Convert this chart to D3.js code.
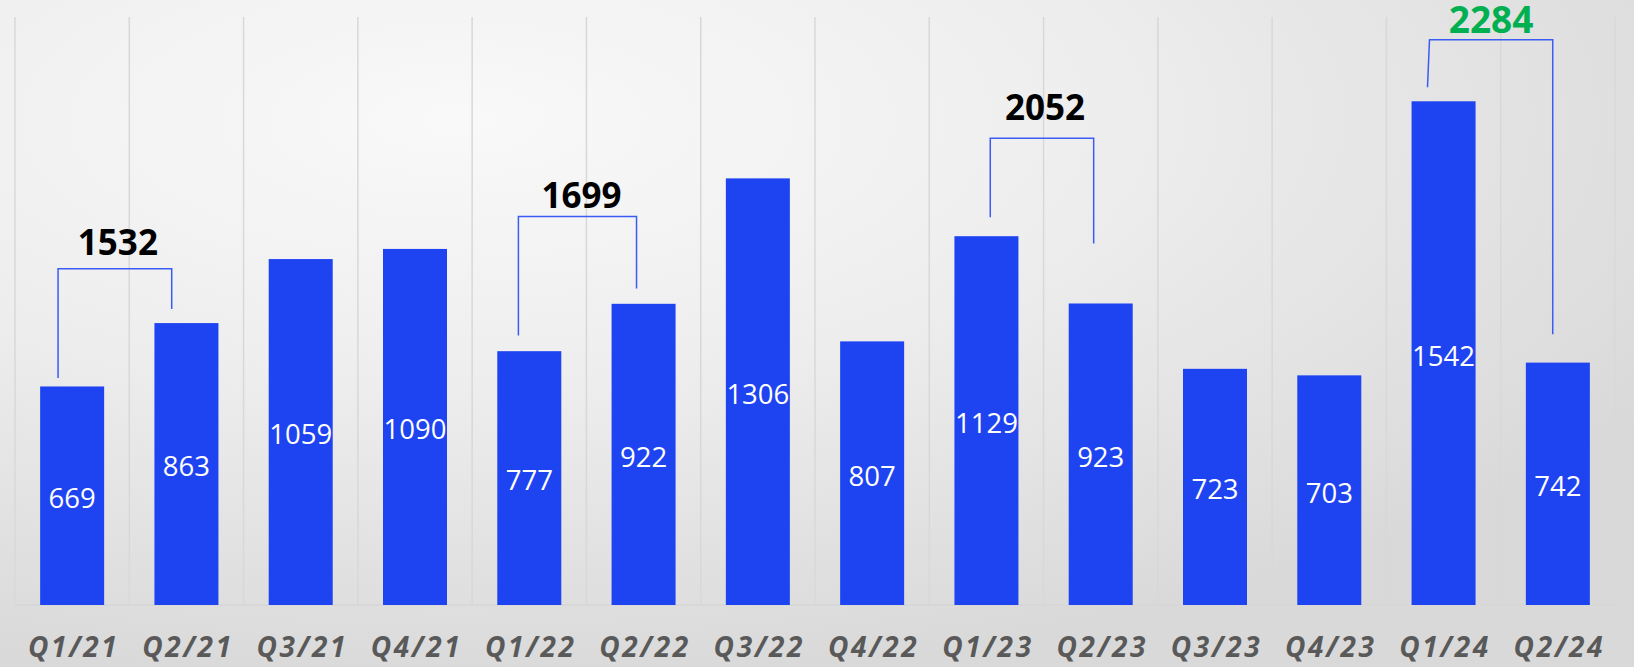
<!DOCTYPE html>
<html>
<head>
<meta charset="utf-8">
<script src="https://cdn.jsdelivr.net/npm/d3@7"></script>
<style>
  html, body { margin: 0; padding: 0; overflow: hidden; }
  svg { display: block; font-family: "Open Sans", sans-serif; }
</style>
</head>
<body>
<svg id="chart" width="1634" height="667"></svg>
<script>
"use strict";

// Quarterly values
const quarters = ["Q1/21", "Q2/21", "Q3/21", "Q4/21", "Q1/22", "Q2/22", "Q3/22",
  "Q4/22", "Q1/23", "Q2/23", "Q3/23", "Q4/23", "Q1/24", "Q2/24"];
const values = [669, 863, 1059, 1090, 777, 922, 1306, 807, 1129, 923, 723, 703, 1542, 742];

// Half-year sums shown as brackets (first half of each year)
const bracketFrom = [0, 4, 8, 12];
const bracketTo = [1, 5, 9, 13];
const bracketTotals = [1532, 1699, 2052, 2284];
// bracket top and leg ends, in value units of the y scale
const bracketLevels = [1029, 1189, 1429, 1730];
const bracketLeftEnds = [695, 825, 1187, 1585];
const bracketRightEnds = [906, 969, 1107, 829];

const width = 1634, height = 667;
const svg = d3.select("#chart");

// Background: soft radial grey
const defs = svg.append("defs");
const grad = defs.append("radialGradient")
  .attr("id", "bg")
  .attr("cx", "28%").attr("cy", "18%").attr("r", "85%")
  .attr("gradientUnits", "objectBoundingBox");
grad.append("stop").attr("offset", "0%").attr("stop-color", "#f9f9f9");
grad.append("stop").attr("offset", "45%").attr("stop-color", "#eeeeee");
grad.append("stop").attr("offset", "100%").attr("stop-color", "#d9d9d9");
svg.append("rect").attr("width", width).attr("height", height).attr("fill", "url(#bg)");

const x = d3.scaleBand()
  .domain(quarters)
  .range([15, 1615])
  .paddingInner(0.44)
  .paddingOuter(0.22);

const y = d3.scaleLinear()
  .domain([0, 1800])
  .range([605, 17]);

const step = x.step();
const slotLeft = q => x(q) - step * 0.22;

// Vertical separators between categories
const gridX = quarters.map(slotLeft).concat([x.range()[1]]);
svg.append("g")
  .selectAll("line")
  .data(gridX)
  .join("line")
  .attr("x1", d => d).attr("x2", d => d)
  .attr("y1", y.range()[1]).attr("y2", y(0))
  .attr("stroke", "#d8d8d8")
  .attr("stroke-width", 1.5);

// Baseline
svg.append("line")
  .attr("x1", x.range()[0]).attr("x2", x.range()[1])
  .attr("y1", y(0)).attr("y2", y(0))
  .attr("stroke", "#d6d6d6")
  .attr("stroke-width", 1.5);

// Bars
svg.append("g")
  .selectAll("rect")
  .data(values)
  .join("rect")
  .attr("x", (d, i) => x(quarters[i]))
  .attr("y", d => y(d))
  .attr("width", x.bandwidth())
  .attr("height", d => y(0) - y(d))
  .attr("fill", "#1e44f2");

// Value labels, centred in each bar
svg.append("g")
  .selectAll("text")
  .data(values)
  .join("text")
  .attr("x", (d, i) => x(quarters[i]) + x.bandwidth() / 2)
  .attr("y", d => (y(d) + y(0)) / 2)
  .attr("dy", "0.45em")
  .attr("text-anchor", "middle")
  .attr("fill", "#ffffff")
  .style("font-size", "27.5px")
  .text(d => d);

// Category labels
svg.append("g")
  .selectAll("text")
  .data(quarters)
  .join("text")
  .attr("x", d => x(d) + x.bandwidth() / 2 + 1.5)
  .attr("y", 657)
  .attr("text-anchor", "middle")
  .attr("fill", "#595959")
  .style("font-size", "28px")
  .style("font-weight", "700")
  .style("font-style", "italic")
  .style("letter-spacing", "2.6px")
  .text(d => d);

// Brackets: leg insets (fraction of bar width) and label lift, hand-placed like the original
const leftInset = [0.28, 0.33, 0.56, 0.28];
const rightInset = [0.27, 0.39, 0.39, 0.42];
const labelLift = [14, 9, 18, 7];
const labelShift = [3, 4, 3, 0];
const highlight = 3;

const bw = x.bandwidth();
const brackets = svg.append("g");
bracketTotals.forEach((total, i) => {
  const x1 = x(quarters[bracketFrom[i]]) + bw * leftInset[i];
  const x2 = x(quarters[bracketTo[i]]) + bw * rightInset[i];
  const top = y(bracketLevels[i]);
  // last bracket's left leg leans slightly
  const lean = i === highlight ? -2 : 0;
  brackets.append("path")
    .attr("d", `M${x1 + lean},${y(bracketLeftEnds[i])}L${x1},${top}L${x2},${top}L${x2},${y(bracketRightEnds[i])}`)
    .attr("fill", "none")
    .attr("stroke", "#3a5cf5")
    .attr("stroke-width", 1.5);
  brackets.append("text")
    .attr("x", (x1 + x2) / 2 + labelShift[i])
    .attr("y", top - labelLift[i])
    .attr("text-anchor", "middle")
    .attr("fill", i === highlight ? "#00b050" : "#000000")
    .style("font-size", i === highlight ? "37px" : "35px")
    .style("font-weight", "700")
    .text(total);
});
</script>
</body>
</html>
